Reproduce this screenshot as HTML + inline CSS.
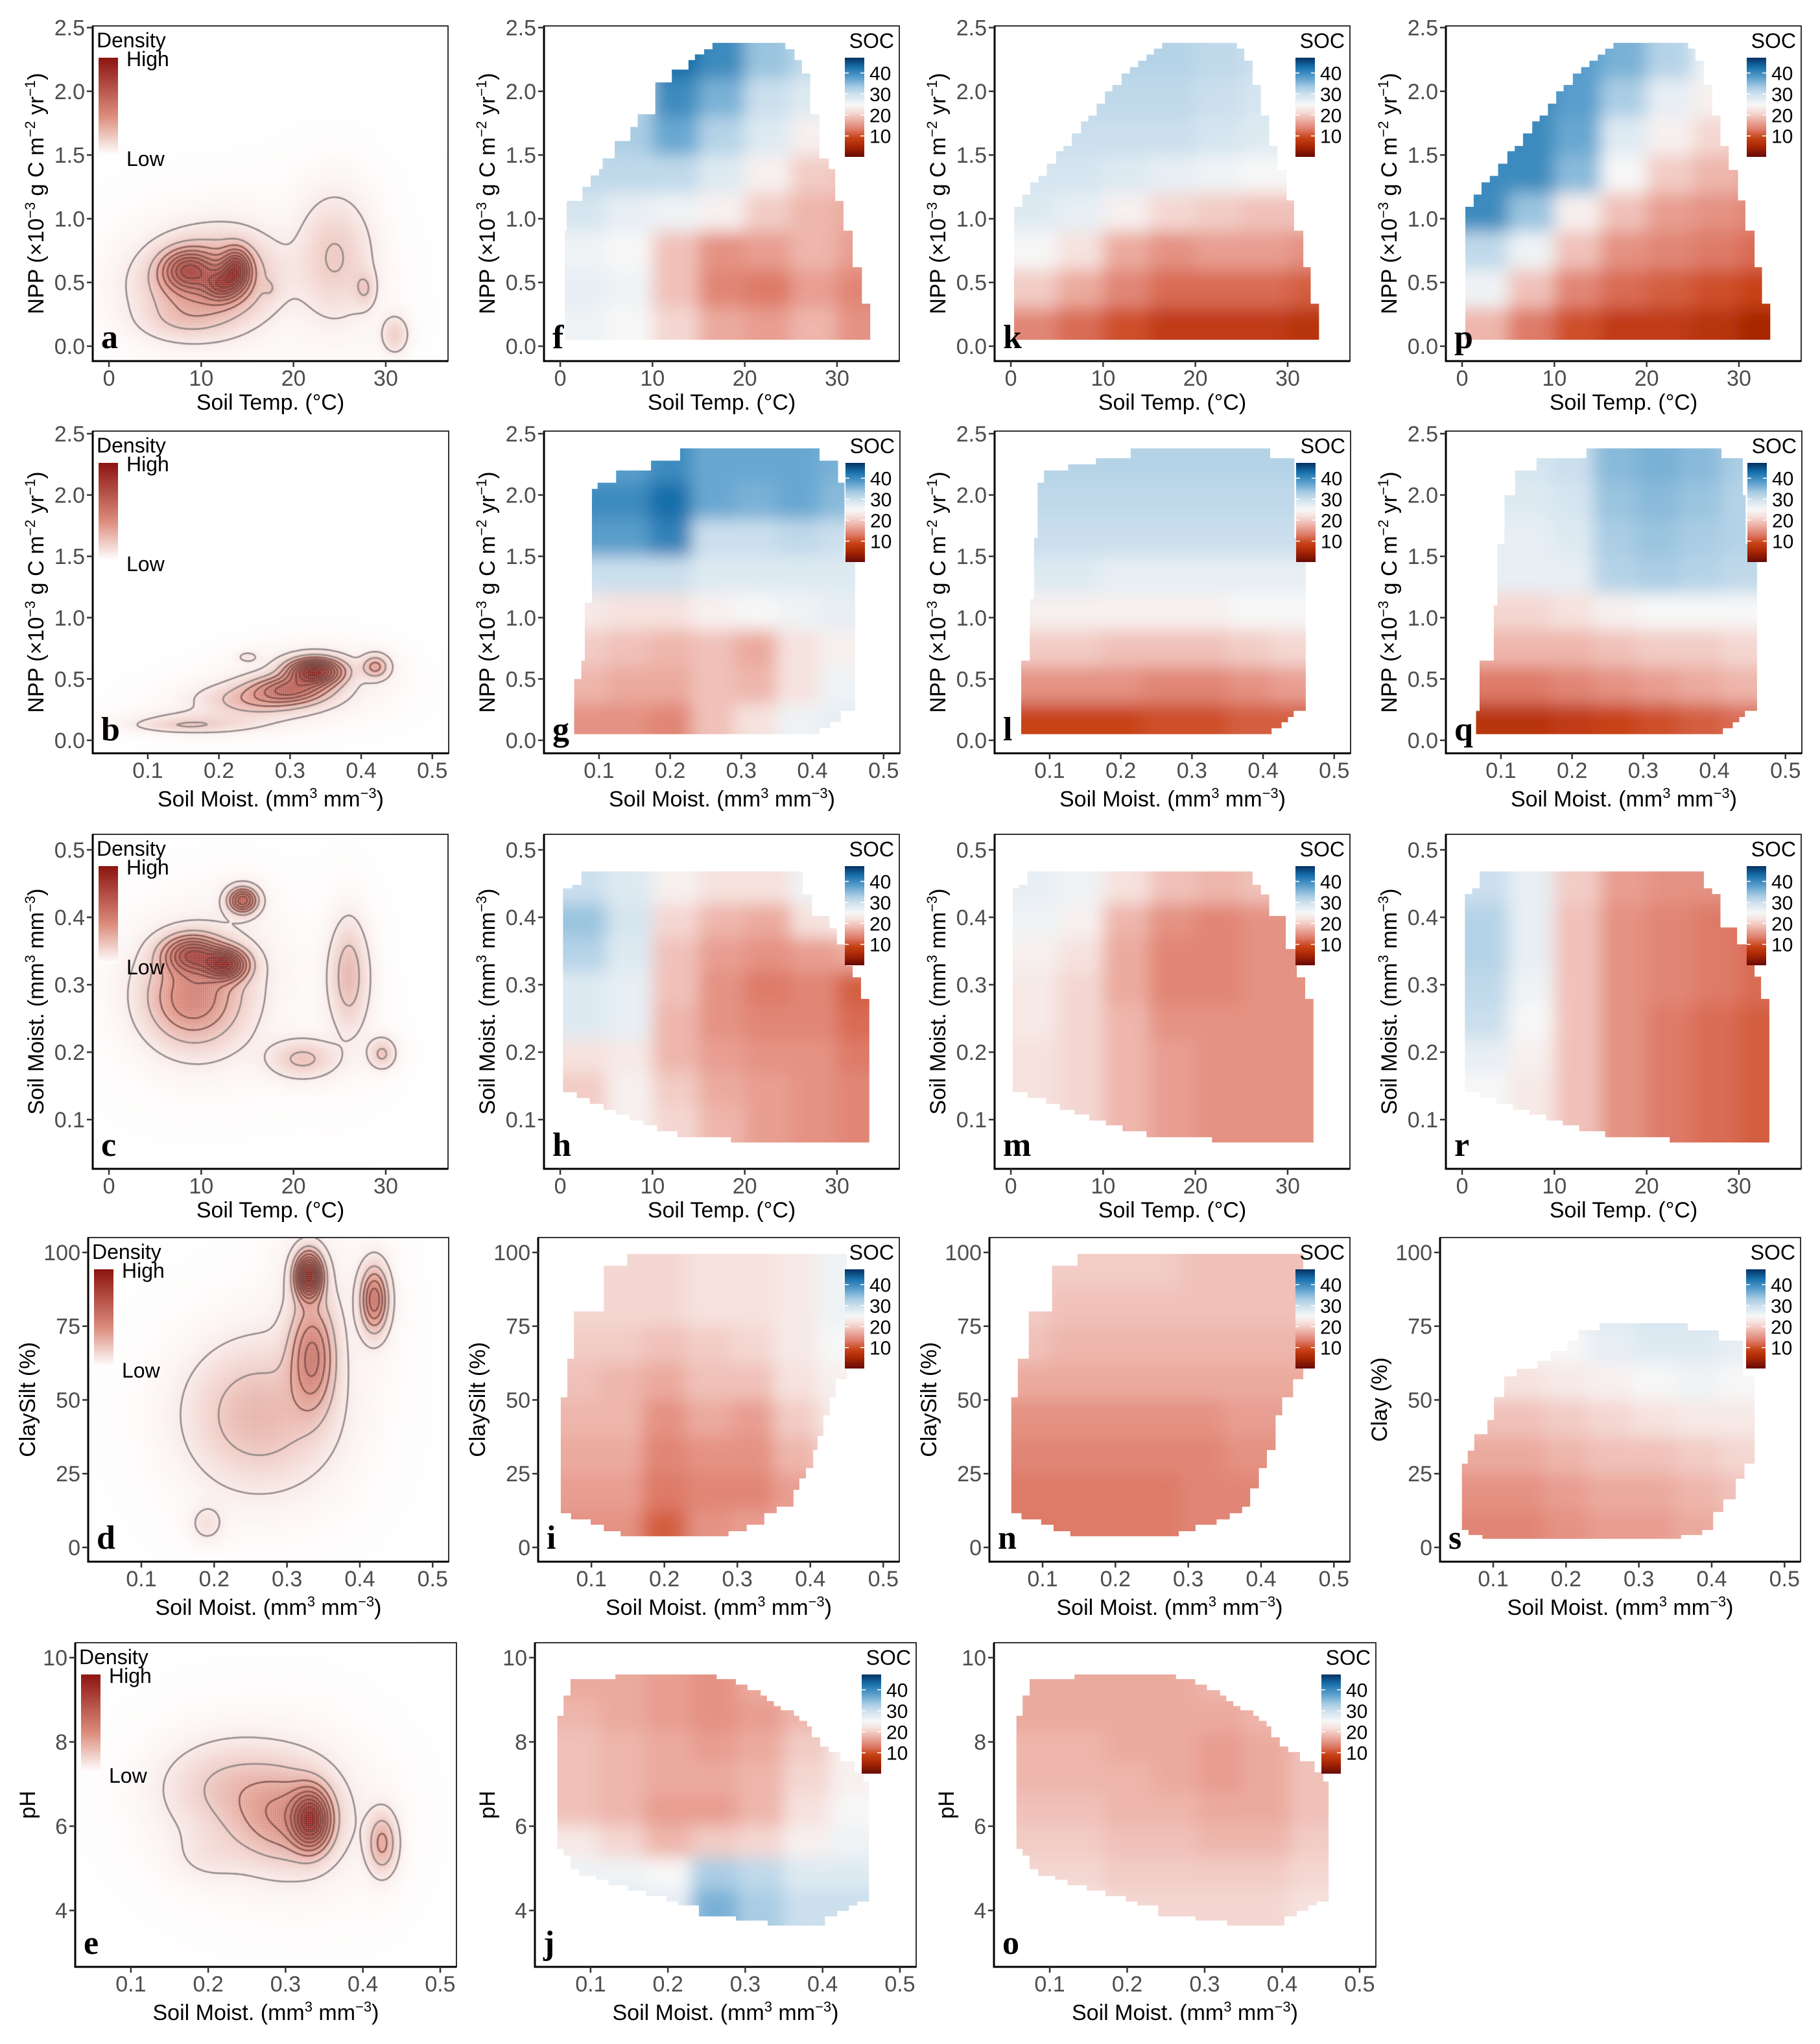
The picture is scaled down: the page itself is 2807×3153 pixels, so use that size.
<!DOCTYPE html>
<html><head><meta charset="utf-8">
<style>
html,body{margin:0;padding:0;background:#fff;}
#wrap{position:relative;width:2807px;height:3153px;overflow:hidden;background:#fff;}
canvas{position:absolute;}
svg{position:absolute;left:0;top:0;}
text{font-family:"Liberation Sans",Arial,sans-serif;}
</style></head>
<body>
<div id="wrap">
<svg id="svg" width="2807" height="3153" xmlns="http://www.w3.org/2000/svg"><defs id="defs"></defs></svg>
</div>
<script>
// ---------- tick arrays ----------
const tempTicks=[0,10,20,30]; const tempLabels=["0","10","20","30"];
const nppTicks=[0,0.5,1,1.5,2,2.5]; const nppLabels=["0.0","0.5","1.0","1.5","2.0","2.5"];
const moistTicks=[0.1,0.2,0.3,0.4,0.5]; const moistLabels=["0.1","0.2","0.3","0.4","0.5"];
const clayTicks=[0,25,50,75,100]; const clayLabels=["0","25","50","75","100"];
const phTicks=[4,6,8,10]; const phLabels=["4","6","8","10"];
const socLegendTicks=[10,20,30,40];

// ---------- density components: x, y, sx, sy, amplitude ----------
const densA_x=[8.5,13.8,12.2,10,24.5,28,31,17.5,8,12,27.5,31];
const densA_y=[0.6,0.6,0.48,0.45,0.7,0.45,0.08,0.45,0.2,0.6,0.45,0.1];
const densA_sx=[1.8,1.0,1.2,4,2.5,0.6,0.8,0.5,3,4,0.8,1.0];
const densA_sy=[0.1,0.1,0.08,0.2,0.3,0.08,0.08,0.05,0.1,0.2,0.1,0.1];
const densA_w=[1.0,1.2,0.8,0.5,0.3,0.1,0.12,0.1,0.15,0.3,0.15,0.15];

const densB_x=[0.335,0.30,0.26,0.42,0.18,0.24,0.15];
const densB_y=[0.56,0.42,0.33,0.6,0.15,0.68,0.12];
const densB_sx=[0.025,0.035,0.05,0.012,0.06,0.01,0.04];
const densB_sy=[0.07,0.07,0.08,0.06,0.06,0.03,0.03];
const densB_w=[1.2,0.6,0.3,0.35,0.12,0.08,0.1];

const densC_x=[14.5,9.0,12.7,8.5,26,21,29.6,10,26,21,29.6];
const densC_y=[0.425,0.345,0.33,0.28,0.32,0.19,0.195,0.28,0.31,0.19,0.2];
const densC_sx=[1.0,2.0,1.5,3.0,1.0,2.0,0.8,3.5,1.5,2.5,1.0];
const densC_sy=[0.012,0.018,0.015,0.04,0.05,0.015,0.012,0.05,0.05,0.02,0.015];
const densC_w=[0.9,0.9,1.1,0.35,0.12,0.1,0.1,0.3,0.2,0.15,0.15];

const densD_x=[0.33,0.335,0.42,0.26,0.19];
const densD_y=[92,65,84,45,8];
const densD_sx=[0.012,0.02,0.012,0.06,0.015];
const densD_sy=[5,12,7,15,4];
const densD_w=[1.3,0.6,0.7,0.3,0.1];

const densE_x=[0.333,0.3,0.425,0.22,0.2,0.25];
const densE_y=[6.15,6.2,5.6,7.0,5.3,6.6];
const densE_sx=[0.016,0.04,0.012,0.05,0.03,0.06];
const densE_sy=[0.45,0.7,0.45,0.6,0.4,0.9];
const densE_w=[1.4,0.5,0.5,0.15,0.08,0.2];

// ---------- SOC heatmap grids ----------
const tempEdges=[0,5,10,15,20,25,30,35];
const moistEdges=[0.05,0.11,0.17,0.23,0.29,0.35,0.41,0.47];
const nppEdges=[2.4,2.1,1.8,1.5,1.2,0.9,0.6,0.3,0.05];
const moistYEdges=[0.47,0.42,0.37,0.32,0.27,0.22,0.17,0.12,0.065];
const clayEdges=[100,87.5,75,62.5,50,37.5,25,12.5,0];
const phEdges=[9.7,9.0,8.25,7.5,6.75,6.0,5.25,4.5,3.6];

const socF=[[30,30,43,40,34,31,30],[30,32,40,36,30,28,27],[30,33,37,32,28,24,22],[31,31,31,28,24,20,19],[29,27,26,24,20,18,17],[26,25,19,15,16,18,16],[27,26,19,14,13,16,14],[26,25,21,17,16,18,15]];
const socK=[[32,32,32,32,31,30,30],[31,31,31,31,30,29,29],[30,30,30,30,29,28,28],[29,29,28,27,26,25,25],[28,27,24,21,20,19,19],[25,22,17,15,16,16,15],[20,17,14,12,12,12,11],[14,12,10,8,8,8,7]];
const socP=[[38,38,38,36,32,26,25],[40,40,38,33,27,24,23],[40,40,37,28,24,21,20],[40,40,35,25,20,18,17],[40,34,24,19,16,15,14],[31,26,19,15,14,13,12],[26,19,14,12,11,10,9],[18,13,10,8,8,7,5]];
const socG=[[38,38,40,37,37,37,36],[40,40,43,37,36,37,35],[38,38,41,30,30,31,30],[30,30,30,28,28,28,28],[23,22,22,24,25,26,27],[20,19,18,19,17,22,24],[18,17,17,19,18,22,26],[15,15,14,19,22,26,27]];
const socL=[[32,32,32,32,32,32,32],[31,31,31,31,31,31,31],[30,30,30,30,30,30,30],[28,28,27,27,27,27,27],[24,24,24,24,24,25,25],[20,20,19,19,19,20,21],[15,15,15,14,14,15,16],[9,9,9,10,10,11,11]];
const socQ=[[28,29,30,35,36,35,33],[28,28,29,34,35,34,32],[27,27,28,33,34,33,32],[27,27,27,32,33,32,31],[21,21,22,24,25,25,25],[18,18,18,19,20,20,21],[13,13,14,15,16,17,18],[7,7,8,9,10,11,12]];
const socH=[[30,28,24,22,22,26,25],[34,29,21,18,17,22,25],[32,28,19,16,15,16,17],[28,27,19,15,13,14,11],[28,27,18,15,14,14,12],[22,23,18,16,15,15,13],[20,24,20,17,16,15,14],[20,24,21,18,16,15,14]];
const socM=[[27,26,22,19,18,19,20],[26,24,18,15,14,15,15],[24,22,17,14,14,15,15],[23,21,17,14,14,15,15],[23,21,18,15,15,15,15],[22,21,18,16,15,15,15],[22,21,18,16,15,15,15],[22,21,18,16,15,15,15]];
const socR=[[30,27,20,16,15,15,14],[32,27,19,15,14,13,12],[32,27,19,15,14,13,12],[31,26,19,15,14,13,12],[30,25,19,15,13,12,11],[27,24,19,15,13,12,11],[25,23,19,15,13,12,11],[25,23,19,15,13,12,11]];
const socI=[[21,21,21,22,22,23,26],[21,21,21,22,22,23,26],[20,20,19,20,21,23,25],[19,18,17,19,19,22,24],[18,18,15,17,16,20,23],[17,17,14,15,15,18,21],[16,16,13,14,14,16,18],[15,15,11,15,16,17,18]];
const socN=[[20,20,20,20,19,19,19],[20,19,19,19,19,19,19],[19,18,18,18,18,18,18],[17,17,17,17,17,17,17],[15,15,15,15,15,16,16],[14,14,14,14,14,15,15],[13,13,13,13,14,14,15],[13,13,13,13,14,14,15]];
const socS=[[28,28,28,28,29,29,29],[28,28,28,28,29,29,29],[24,24,25,27,28,28,27],[22,22,23,24,25,26,25],[19,19,20,21,22,23,23],[17,17,18,19,19,20,21],[15,15,16,17,17,18,19],[14,14,15,16,16,17,18]];
const socJ=[[17,17,16,15,17,19,22],[18,17,16,15,16,18,21],[19,18,17,16,17,20,24],[19,18,17,17,18,21,24],[19,18,16,16,18,22,25],[23,21,18,20,21,24,26],[26,26,25,33,31,28,28],[28,28,27,36,33,30,30]];
const socO=[[17,17,17,17,18,18,19],[17,17,17,17,17,18,19],[18,18,17,17,16,17,19],[18,18,18,17,16,17,19],[19,19,18,18,17,17,19],[20,20,19,19,18,18,20],[21,21,20,20,20,20,21],[22,22,21,21,21,21,22]];

// ---------- data-extent masks: band top (y), x lower, x upper ----------
const maskF_top=[2.38,2.33,2.29,2.245,2.17,2.14,2.07,1.82,1.72,1.61,1.474,1.39,1.34,1.25,1.14,0.907,0.62,0.333];
const maskF_lo=[16.5,15.6,14.6,13.9,12.1,12.1,10.3,8.4,7.6,5.9,4.6,4.2,3.3,2.4,0.7,0.5,0.5,0.5];
const maskF_hi=[24.4,25.4,25.4,26.2,26.2,27.1,27.1,28.1,28.1,28.1,29.1,29.8,29.8,29.8,30.7,31.7,32.7,33.6];
const maskF_end=0.05;
const maskK_top=[2.38,2.335,2.288,2.24,2.19,2.14,2.05,2.0,1.903,1.81,1.764,1.67,1.571,1.53,1.432,1.383,1.336,1.286,1.19,1.144,1.094,0.907,0.62,0.333];
const maskK_lo=[16.4,15.5,14.7,13.8,12.9,12.0,11.0,10.2,9.3,8.4,7.6,6.6,5.7,4.9,3.9,3.9,3.0,2.1,1.25,1.25,0.35,0.35,0.35,0.35];
const maskK_hi=[24.5,25.3,25.3,26.2,26.2,26.2,27.1,27.1,27.1,28.0,28.0,28.0,28.9,28.9,28.9,29.9,29.9,29.9,29.9,30.7,30.7,31.7,32.5,33.4];
const maskK_end=0.05;
const maskG_top=[2.38,2.28,2.2,2.1,2.05,1.5,1.12,0.65,0.5,0.24,0.15,0.1];
const maskG_lo=[0.214,0.173,0.124,0.098,0.09,0.09,0.08,0.075,0.065,0.065,0.065,0.065];
const maskG_hi=[0.41,0.436,0.436,0.445,0.445,0.46,0.46,0.46,0.46,0.44,0.425,0.41];
const maskG_end=0.05;
const maskL_top=[2.38,2.3,2.25,2.2,2.1,1.65,1.15,0.65,0.24,0.19,0.147,0.098];
const maskL_lo=[0.214,0.165,0.126,0.092,0.083,0.078,0.072,0.06,0.06,0.06,0.06,0.06];
const maskL_hi=[0.41,0.444,0.444,0.444,0.444,0.46,0.46,0.46,0.443,0.435,0.426,0.412];
const maskL_end=0.05;
const maskQ_top=[2.38,2.3,2.2,2.0,1.6,1.1,0.65,0.24,0.19,0.147,0.098];
const maskQ_lo=[0.22,0.15,0.12,0.105,0.095,0.09,0.07,0.065,0.065,0.065,0.065];
const maskQ_hi=[0.41,0.44,0.44,0.444,0.46,0.46,0.46,0.443,0.435,0.426,0.412];
const maskQ_end=0.05;
const maskH_top=[0.468,0.448,0.443,0.434,0.402,0.384,0.36,0.328,0.311,0.279,0.1407,0.132,0.1233,0.1145,0.1074,0.0986,0.0915,0.0827,0.0739];
const maskH_lo=[2.3,1.3,0.3,0.3,0.3,0.3,0.3,0.3,0.3,0.3,1.8,3.2,4.7,6,7.5,9,10.5,12.7,18.5];
const maskH_hi=[26.3,26.3,26.3,27.3,29.2,30,31,31.7,32.6,33.5,33.5,33.5,33.5,33.5,33.5,33.5,33.5,33.5,33.5];
const maskH_end=0.066;
const maskM_top=[0.468,0.448,0.443,0.434,0.402,0.36,0.353,0.311,0.279,0.1407,0.132,0.1233,0.1145,0.1074,0.0986,0.0915,0.0827,0.0739];
const maskM_lo=[1.8,0.9,0.2,0.2,0.2,0.2,0.2,0.2,0.2,1.8,3.8,5.3,6.9,8.5,10.3,12.1,14.7,21.8];
const maskM_hi=[26.2,27.1,27.1,28.0,29.8,29.8,31,31.9,32.8,32.8,32.8,32.8,32.8,32.8,32.8,32.8,32.8,32.8];
const maskM_end=0.066;
const maskR_top=[0.468,0.443,0.4345,0.385,0.36,0.312,0.279,0.1407,0.132,0.1233,0.1145,0.1074,0.0986,0.0915,0.0827,0.0739];
const maskR_lo=[1.9,1.1,0.3,0.3,0.3,0.3,0.3,1.9,3.7,5.5,7.3,9.1,10.9,12.7,15.5,22.5];
const maskR_hi=[26.2,27.1,28,29.8,31.7,32.4,33.3,33.3,33.3,33.3,33.3,33.3,33.3,33.3,33.3,33.3];
const maskR_end=0.066;
const maskI_top=[99.5,95.5,80,64,57,50.9,44.8,37.8,33.0,26.9,23.4,19.5,13.8,11.6,9.5,7.7,5.5];
const maskI_lo=[0.149,0.117,0.076,0.067,0.067,0.058,0.058,0.058,0.058,0.058,0.058,0.058,0.058,0.072,0.099,0.117,0.14];
const maskI_hi=[0.45,0.45,0.45,0.45,0.435,0.427,0.418,0.41,0.404,0.394,0.385,0.377,0.354,0.337,0.337,0.313,0.288];
const maskI_end=3.8;
const maskN_top=[99.5,95.5,80,64,57,50.9,44.8,33,26.9,20,13.8,11.6,9.5,7.7,5.5];
const maskN_lo=[0.148,0.113,0.081,0.066,0.066,0.057,0.057,0.057,0.057,0.057,0.057,0.071,0.098,0.115,0.138];
const maskN_hi=[0.458,0.458,0.458,0.458,0.444,0.429,0.42,0.408,0.397,0.385,0.374,0.357,0.339,0.31,0.287];
const maskN_end=3.8;
const maskS_top=[76,73.6,70.1,66.6,63.2,60.6,58,51,43.2,38.4,32.8,28.4,23.3,16.3,12,8.5,5.9,4.2];
const maskS_lo=[0.246,0.217,0.202,0.179,0.161,0.132,0.115,0.101,0.092,0.074,0.065,0.057,0.057,0.057,0.057,0.057,0.066,0.085];
const maskS_hi=[0.367,0.41,0.443,0.443,0.443,0.443,0.459,0.459,0.459,0.459,0.459,0.445,0.433,0.416,0.402,0.402,0.387,0.358];
const maskS_end=2.9;
const maskJ_top=[9.60,9.49,9.36,9.23,9.10,8.97,8.85,8.75,8.62,8.50,8.37,8.11,7.89,7.76,7.54,7.28,7.06,5.46,5.30,4.98,4.82,4.73,4.60,4.47,4.34,4.21,4.12,3.99,3.86,3.76];
const maskJ_lo=[0.132,0.074,0.074,0.074,0.065,0.065,0.065,0.065,0.057,0.057,0.057,0.057,0.057,0.057,0.057,0.057,0.057,0.065,0.074,0.085,0.107,0.123,0.148,0.172,0.198,0.213,0.24,0.24,0.288,0.329];
const maskJ_hi=[0.263,0.288,0.303,0.32,0.328,0.337,0.346,0.363,0.37,0.38,0.386,0.397,0.408,0.423,0.442,0.453,0.46,0.46,0.46,0.46,0.46,0.46,0.46,0.46,0.46,0.445,0.434,0.419,0.403,0.403];
const maskJ_end=3.64;

// ---------- helpers ----------
const NS="http://www.w3.org/2000/svg";
const svg=document.getElementById('svg');
const defs=document.getElementById('defs');
const wrap=document.getElementById('wrap');
function mk(tag,attrs,parent){const e=document.createElementNS(NS,tag);for(const k in attrs)e.setAttribute(k,attrs[k]);(parent||svg).appendChild(e);return e;}
function lin(d0,d1,r0,r1){return v=>r0+(v-d0)/(d1-d0)*(r1-r0);}
const socStops=[[0,[103,10,5]],[5,[168,38,5]],[9,[200,66,22]],[13,[222,122,104]],[18,[238,182,172]],[22,[246,226,222]],[25,[247,247,247]],[29,[214,229,240]],[33,[170,205,228]],[38,[88,158,204]],[43,[22,110,170]],[47.3,[5,48,97]]];
function socColor(v){
  if(v<=socStops[0][0])return 'rgb('+socStops[0][1].join(',')+')';
  for(let i=1;i<socStops.length;i++){if(v<=socStops[i][0]){const a=socStops[i-1],b=socStops[i];const t=(v-a[0])/(b[0]-a[0]);return 'rgb('+a[1].map((c,k)=>Math.round(c+(b[1][k]-c)*t)).join(',')+')';}}
  return 'rgb('+socStops[socStops.length-1][1].join(',')+')';
}
const gS=mk('linearGradient',{id:'socgrad',x1:0,y1:1,x2:0,y2:0},defs);
socStops.forEach(s=>mk('stop',{offset:(s[0]/47.3),'stop-color':'rgb('+s[1].join(',')+')'},gS));
const gD=mk('linearGradient',{id:'densgrad',x1:0,y1:1,x2:0,y2:0},defs);
[[0,'#ffffff'],[0.4,'#dc8c7d'],[1,'#8c140f']].forEach(s=>mk('stop',{offset:s[0],'stop-color':s[1]},gD));
const blurF=mk('filter',{id:'soft',x:'-10%',y:'-10%',width:'120%',height:'120%'},defs);
mk('feGaussianBlur',{stdDeviation:13},blurF);

const tickFont=34, titleFont=34;
const NPP_T=[['NPP (×10',''],['−3','sup'],[' g C m',''],['−2','sup'],[' yr',''],['−1','sup'],[')','']];
const MOIST_T=[['Soil Moist. (mm',''],['3','sup'],[' mm',''],['−3','sup'],[')','']];

function richText(g,x,y,parts,attrs){
  const t=mk('text',Object.assign({x:x,y:y,'font-size':titleFont,fill:'#000','text-anchor':'middle'},attrs||{}),g);
  let prevSup=false;
  parts.forEach(p=>{const s=mk('tspan',{},t);s.textContent=p[0];
    if(p[1]==='sup'){s.setAttribute('font-size',22);s.setAttribute('dy',-13);prevSup=true;}
    else{s.setAttribute('dy',prevSup?13:0);prevSup=false;}});
  return t;
}

function axes(p){
  const g=mk('g',{});
  
  
  const [l,t,r,b]=p.box;
  const fx=lin(p.xd[0],p.xd[1],l,r), fy=lin(p.yd[0],p.yd[1],b,t);
  const box=mk('rect',{x:l,y:t,width:r-l,height:b-t,fill:'none',stroke:'#333',"stroke-width":2},g);
  
  
  mk('line',{x1:l,y1:t,x2:l,y2:b+1.5,stroke:'#000','stroke-width':3},g);
  mk('line',{x1:l-1.5,y1:b,x2:r,y2:b,stroke:'#000','stroke-width':3},g);
  p.xt.forEach((v,i)=>{const x=fx(v);mk('line',{x1:x,y1:b,x2:x,y2:b+9,stroke:'#333','stroke-width':2.5},g);
    const tx=mk('text',{x:x,y:b+38,'font-size':tickFont,fill:'#4d4d4d','text-anchor':'middle'},g);tx.textContent=p.xl[i];
    
    });
  p.yt.forEach((v,i)=>{const y=fy(v);mk('line',{x1:l-9,y1:y,x2:l,y2:y,stroke:'#333','stroke-width':2.5},g);
    const ty=mk('text',{x:l-12,y:y+12,'font-size':tickFont,fill:'#4d4d4d','text-anchor':'end'},g);ty.textContent=p.yl[i];
    
    });
  let xt;
  if(typeof p.xTitle==='string'){xt=mk('text',{x:(l+r)/2,y:b+75,'font-size':titleFont,fill:'#000','text-anchor':'middle'},g);xt.textContent=p.xTitle;}
  else xt=richText(g,(l+r)/2,b+82,p.xTitle);
  
  
  const cy=(t+b)/2, cx=l-p.ytOff;
  let yt;
  if(typeof p.yTitle==='string'){yt=mk('text',{x:0,y:0,'font-size':titleFont,fill:'#000','text-anchor':'middle',transform:'translate('+cx+','+cy+') rotate(-90)'},g);yt.textContent=p.yTitle;}
  else yt=richText(g,0,0,p.yTitle,{transform:'translate('+cx+','+cy+') rotate(-90)'});
  
  
  const lt=mk('text',{x:l+13,y:b-20,'font-size':52,'font-weight':'bold',fill:'#000',style:'font-family:"Liberation Serif",serif'},g);
  lt.textContent=p.id;
  
  
  return {fx,fy};
}

function socLegend(p){
  const [l,t,r,b]=p.box;
  const g=mk('g',{});
  
  
  const tt=mk('text',{x:r-8,y:t+34,'font-size':32,fill:'#000','text-anchor':'end'},g);tt.textContent='SOC';
  const bx=r-84,by=t+49,bh=153;
  const bar=mk('rect',{x:bx,y:by,width:30,height:bh,fill:'url(#socgrad)'},g);
  
  
  const fv=lin(0,47.3,by+bh,by);
  socLegendTicks.forEach(v=>{const y=fv(v);
    mk('line',{x1:bx,y1:y,x2:bx+6,y2:y,stroke:'#fff','stroke-width':1.5},g);
    mk('line',{x1:bx+24,y1:y,x2:bx+30,y2:y,stroke:'#fff','stroke-width':1.5},g);
    const tx=mk('text',{x:r-46,y:y+11,'font-size':30,fill:'#000'},g);tx.textContent=String(v);
    
    });
}

function heat(p,xE,yE,soc,mTop,mLo,mHi,mEnd){
  const {fx,fy}=axes(p);
  const cid='clip-'+p.id;
  const cp=mk('clipPath',{id:cid},defs);
  mTop.forEach((yt,i)=>{const yb=(i+1<mTop.length)?mTop[i+1]:mEnd;
    mk('rect',{x:fx(mLo[i]),y:fy(yt),width:fx(mHi[i])-fx(mLo[i]),height:fy(yb)-fy(yt)},cp);});
  const g=mk('g',{'clip-path':'url(#'+cid+')'});
  
  
  svg.insertBefore(g,svg.children[1]);
  const inner=mk('g',{filter:'url(#soft)'},g);
  const nR=soc.length,nC=soc[0].length,pad=45;
  soc.forEach((row,ri)=>row.forEach((v,ci)=>{
    let x0=fx(xE[ci]),x1=fx(xE[ci+1]),y0=fy(yE[ri]),y1=fy(yE[ri+1]);
    if(ci===0)x0-=pad; if(ci===nC-1)x1+=pad; if(ri===0)y0-=pad; if(ri===nR-1)y1+=pad;
    const c=mk('rect',{x:x0,y:y0,width:x1-x0+0.6,height:y1-y0+0.6,fill:socColor(v)},inner);
    
    
  }));
  socLegend(p);
}

function density(p,cx,cy,sx,sy,w){
  const [l,t,r,b]=p.box;
  const W=r-l,H=b-t;
  const cv=document.createElement('canvas');
  cv.width=W;cv.height=H;cv.style.left=l+'px';cv.style.top=t+'px';
  
  
  wrap.insertBefore(cv,svg);
  const ctx=cv.getContext('2d');
  const ix=lin(0,W,p.xd[0],p.xd[1]), iy=lin(0,H,p.yd[1],p.yd[0]);
  const st=3,nx=Math.ceil(W/st)+1,ny=Math.ceil(H/st)+1;
  const F=[];let mx=0;
  for(let j=0;j<ny;j++){F.push([]);for(let i=0;i<nx;i++){const X=ix(i*st),Y=iy(j*st);let d=0;
    for(let k=0;k<cx.length;k++){const a=(X-cx[k])/sx[k],c=(Y-cy[k])/sy[k];d+=w[k]*Math.exp(-0.5*(a*a+c*c));}
    for(let k=0;k<cx.length;k++){const a=(X-cx[k])/(sx[k]*2.6),c=(Y-cy[k])/(sy[k]*2.6);d+=0.03*w[k]*Math.exp(-0.5*(a*a+c*c));}
    F[j].push(d);if(d>mx)mx=d;}}
  const lo=[255,255,255],mid=[220,140,125],hi=[140,20,15];
  for(let j=0;j<ny;j++)for(let i=0;i<nx;i++){let tt=Math.pow(F[j][i]/mx,0.85);let c;
    if(tt<0.4){const u=tt/0.4;c=lo.map((v,k)=>Math.round(v+(mid[k]-v)*u));}else{const u=(tt-0.4)/0.6;c=mid.map((v,k)=>Math.round(v+(hi[k]-v)*u));}
    ctx.fillStyle='rgb('+c.join(',')+')';ctx.fillRect(i*st-st/2,j*st-st/2,st,st);}
  ctx.lineWidth=2.6;ctx.lineJoin='round';
  for(let q=0;q<10;q++){const L=mx*(0.05+q*0.1);
    ctx.strokeStyle=q<2?'rgba(140,130,130,0.9)':'rgba(110,70,65,0.75)';ctx.beginPath();
    for(let j=0;j<ny-1;j++)for(let i=0;i<nx-1;i++){
      const a=F[j][i],bq=F[j][i+1],c=F[j+1][i+1],d=F[j+1][i];const pts=[];
      const ed=(v1,v2,x1,y1,x2,y2)=>{if((v1-L)*(v2-L)<0){const u=(L-v1)/(v2-v1);pts.push([x1+(x2-x1)*u,y1+(y2-y1)*u]);}};
      const X0=i*st,Y0=j*st,X1=X0+st,Y1=Y0+st;
      ed(a,bq,X0,Y0,X1,Y0);ed(bq,c,X1,Y0,X1,Y1);ed(c,d,X1,Y1,X0,Y1);ed(d,a,X0,Y1,X0,Y0);
      if(pts.length>=2){ctx.moveTo(pts[0][0],pts[0][1]);ctx.lineTo(pts[1][0],pts[1][1]);}
      if(pts.length===4){ctx.moveTo(pts[2][0],pts[2][1]);ctx.lineTo(pts[3][0],pts[3][1]);}
    }
    ctx.stroke();}
  axes(p);
  const g=mk('g',{});
  
  
  const t1=mk('text',{x:l+6,y:t+33,'font-size':32,fill:'#000'},g);t1.textContent='Density';
  const bar=mk('rect',{x:l+9,y:t+49,width:30,height:150,fill:'url(#densgrad)'},g);
  
  
  const t2=mk('text',{x:l+52,y:t+62,'font-size':32,fill:'#000'},g);t2.textContent='High';
  const t3=mk('text',{x:l+52,y:t+216,'font-size':32,fill:'#000'},g);t3.textContent='Low';
}

// ---------- panel specs ----------
const TD=[-1.76,36.75], ND1=[-0.117,2.513], ND2=[-0.106,2.521], MX2=[0.0226,0.523], MY3=[0.027,0.523], MX4=[0.027,0.522], CY4=[-4.84,105.05], MX5=[0.028,0.521], PY5=[2.662,10.354];
function spec(id,box,xd,yd,xt,xl,yt,yl,xTitle,yTitle,ytOff){return {id,box,xd,yd,xt,xl,yt,yl,xTitle,yTitle,ytOff:ytOff||76};}
const R1=[40,557],R2=[665,1162],R3=[1287,1803],R4=[1909,2409],R5=[2534,3034];
const cols=[[143,691],[839,1387],[1534,2082],[2230,2778]];
function row1(id,c){return spec(id,[cols[c][0],R1[0],cols[c][1],R1[1]],TD,ND1,tempTicks,tempLabels,nppTicks,nppLabels,'Soil Temp. (°C)',NPP_T);}
function row2(id,c){return spec(id,[cols[c][0],R2[0],cols[c][1]+1,R2[1]],MX2,ND2,moistTicks,moistLabels,nppTicks,nppLabels,MOIST_T,NPP_T);}
function row3(id,c){return spec(id,[cols[c][0],R3[0],cols[c][1],R3[1]],TD,MY3,tempTicks,tempLabels,moistTicks,moistLabels,'Soil Temp. (°C)',MOIST_T);}
const r4cols=[[136,692],[830,1387],[1526,2082],[2221,2777]];
function row4(id,c,yT){return spec(id,[r4cols[c][0],R4[0],r4cols[c][1],R4[1]],MX4,CY4,moistTicks,moistLabels,clayTicks,clayLabels,MOIST_T,yT,82);}
const r5cols=[[116,704],[825,1413],[1533,2122]];
function row5(id,c){return spec(id,[r5cols[c][0],R5[0],r5cols[c][1],R5[1]],MX5,PY5,moistTicks,moistLabels,phTicks,phLabels,MOIST_T,'pH',62);}

density(row1('a',0),densA_x,densA_y,densA_sx,densA_sy,densA_w);
heat(row1('f',1),tempEdges,nppEdges,socF,maskF_top,maskF_lo,maskF_hi,maskF_end);
heat(row1('k',2),tempEdges,nppEdges,socK,maskK_top,maskK_lo,maskK_hi,maskK_end);
heat(row1('p',3),tempEdges,nppEdges,socP,maskK_top,maskK_lo,maskK_hi,maskK_end);

density(row2('b',0),densB_x,densB_y,densB_sx,densB_sy,densB_w);
heat(row2('g',1),moistEdges,nppEdges,socG,maskG_top,maskG_lo,maskG_hi,maskG_end);
heat(row2('l',2),moistEdges,nppEdges,socL,maskL_top,maskL_lo,maskL_hi,maskL_end);
heat(row2('q',3),moistEdges,nppEdges,socQ,maskQ_top,maskQ_lo,maskQ_hi,maskQ_end);

density(row3('c',0),densC_x,densC_y,densC_sx,densC_sy,densC_w);
heat(row3('h',1),tempEdges,moistYEdges,socH,maskH_top,maskH_lo,maskH_hi,maskH_end);
heat(row3('m',2),tempEdges,moistYEdges,socM,maskM_top,maskM_lo,maskM_hi,maskM_end);
heat(row3('r',3),tempEdges,moistYEdges,socR,maskR_top,maskR_lo,maskR_hi,maskR_end);

density(row4('d',0,'ClaySilt (%)'),densD_x,densD_y,densD_sx,densD_sy,densD_w);
heat(row4('i',1,'ClaySilt (%)'),moistEdges,clayEdges,socI,maskI_top,maskI_lo,maskI_hi,maskI_end);
heat(row4('n',2,'ClaySilt (%)'),moistEdges,clayEdges,socN,maskN_top,maskN_lo,maskN_hi,maskN_end);
heat(row4('s',3,'Clay (%)'),moistEdges,clayEdges,socS,maskS_top,maskS_lo,maskS_hi,maskS_end);

density(row5('e',0),densE_x,densE_y,densE_sx,densE_sy,densE_w);
heat(row5('j',1),moistEdges,phEdges,socJ,maskJ_top,maskJ_lo,maskJ_hi,maskJ_end);
heat(row5('o',2),moistEdges,phEdges,socO,maskJ_top,maskJ_lo,maskJ_hi,maskJ_end);
</script>
</body></html>
